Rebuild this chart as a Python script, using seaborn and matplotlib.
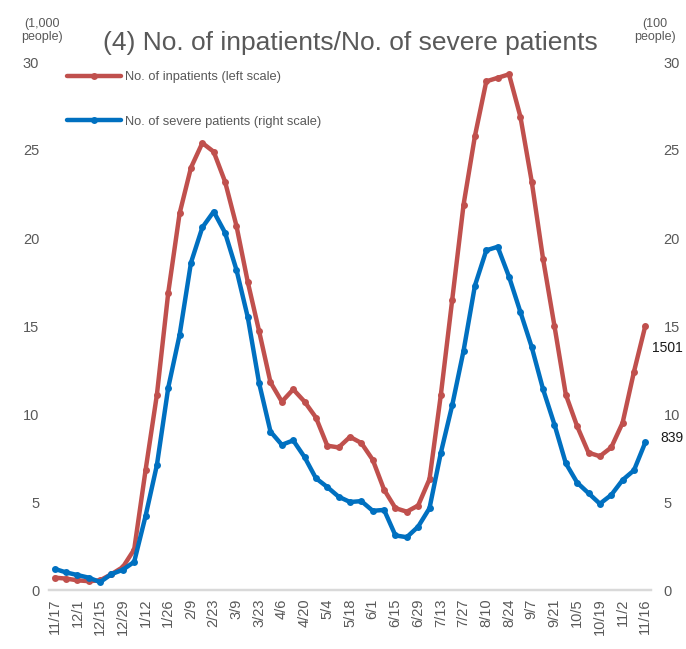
import matplotlib
matplotlib.use("Agg")
import matplotlib.pyplot as plt
import numpy as np
import pandas as pd
import seaborn as sns

# weekly observation dates
weeks = [
    "11/17", "11/24", "12/1", "12/8", "12/15", "12/22", "12/29", "1/5", "1/12", "1/19",
    "1/26", "2/2", "2/9", "2/16", "2/23", "3/2", "3/9", "3/16", "3/23", "3/30",
    "4/6", "4/13", "4/20", "4/27", "5/4", "5/11", "5/18", "5/25", "6/1", "6/8",
    "6/15", "6/22", "6/29", "7/6", "7/13", "7/20", "7/27", "8/3", "8/10", "8/17",
    "8/24", "8/31", "9/7", "9/14", "9/21", "9/28", "10/5", "10/12", "10/19", "10/26",
    "11/2", "11/9", "11/16",
]

# inpatients, 1,000 people (left scale)
inpatients = [
    0.7, 0.65, 0.55, 0.5, 0.55, 0.9, 1.3, 2.3, 6.8, 11.1,
    16.9, 21.4, 24.0, 25.4, 24.9, 23.2, 20.7, 17.5, 14.7, 11.8,
    10.7, 11.4, 10.7, 9.8, 8.2, 8.1, 8.7, 8.35, 7.4, 5.7,
    4.65, 4.45, 4.8, 6.3, 11.1, 16.5, 21.9, 25.8, 28.9, 29.1,
    29.3, 26.9, 23.2, 18.8, 15.0, 11.1, 9.3, 7.8, 7.6, 8.1,
    9.5, 12.4, 15.01,
]

# severe patients, 100 people (right scale)
severe = [
    1.2, 1.0, 0.85, 0.7, 0.45, 0.9, 1.15, 1.6, 4.2, 7.1,
    11.5, 14.5, 18.6, 20.6, 21.5, 20.3, 18.2, 15.5, 11.75, 9.0,
    8.25, 8.5, 7.55, 6.35, 5.85, 5.3, 5.0, 5.05, 4.5, 4.55,
    3.1, 3.0, 3.6, 4.65, 7.8, 10.5, 13.6, 17.3, 19.3, 19.5,
    17.8, 15.8, 13.8, 11.4, 9.4, 7.2, 6.1, 5.5, 4.9, 5.4,
    6.25, 6.8, 8.39,
]

y_ticks = [0, 5, 10, 15, 20, 25, 30]

RED = "#C0504D"
BLUE = "#0070C0"
GREY = "#595959"

sns.set_theme(style="white")
plt.rcParams["font.family"] = ["Liberation Sans", "DejaVu Sans"]

df = pd.DataFrame({"week": weeks, "inpatients": inpatients, "severe": severe})
df["pos"] = np.arange(len(df))

fig = plt.figure(figsize=(6.86, 6.49), dpi=100)
ax = fig.add_axes([49 / 686, 1 - 590 / 649, 602 / 686, 528 / 649])
ax2 = ax.twinx()

sns.lineplot(data=df, x="pos", y="inpatients", ax=ax, color=RED, linewidth=3.2,
             marker="o", markersize=5, markeredgewidth=0,
             label="No. of inpatients (left scale)", legend=False)
sns.lineplot(data=df, x="pos", y="severe", ax=ax2, color=BLUE, linewidth=3.2,
             marker="o", markersize=5, markeredgewidth=0,
             label="No. of severe patients (right scale)", legend=False)

for a in (ax, ax2):
    a.set_ylim(0, 30)
    a.set_yticks(y_ticks)
    a.set_xlim(-0.5, len(df) - 0.5)
    a.set_xlabel("")
    a.set_ylabel("")
    for side in ("top", "left", "right"):
        a.spines[side].set_visible(False)
    a.spines["bottom"].set_color("#d9d9d9")
    a.spines["bottom"].set_linewidth(1.6)
    a.grid(False)

ax.tick_params(axis="y", length=0, pad=7, labelsize=10.5, labelcolor=GREY)
ax2.tick_params(axis="y", length=0, pad=9, labelsize=10.5, labelcolor=GREY)
ax.set_xticks(df["pos"][::2])
ax.set_xticklabels(df["week"][::2], rotation=90)
ax.tick_params(axis="x", length=0, pad=6, labelsize=10.5, labelcolor=GREY)

fig.text(0.511, 0.934, "(4) No. of inpatients/No. of severe patients",
         ha="center", va="center", fontsize=19, color=GREY)
fig.text(0.061, 0.953, "(1,000\npeople)", ha="center", va="center",
         fontsize=9, color=GREY, linespacing=1.2)
fig.text(0.955, 0.953, "(100\npeople)", ha="center", va="center",
         fontsize=9, color=GREY, linespacing=1.2)

# end-point value labels
ax.annotate(f"{inpatients[-1] * 100:.0f}", (df["pos"].iloc[-1], inpatients[-1]),
            xytext=(5, -16), textcoords="offset points", ha="left", va="center",
            fontsize=10, color="#1a1a1a")
ax2.annotate(f"{severe[-1] * 100:.0f}", (df["pos"].iloc[-1], severe[-1]),
             xytext=(11, 3), textcoords="offset points", ha="left", va="center",
             fontsize=10, color="#1a1a1a")

handles = ax.get_lines()[:1] + ax2.get_lines()[:1]
leg = ax2.legend(handles=handles, labels=[h.get_label() for h in handles],
                 loc="upper left", bbox_to_anchor=(13 / 602, 1 - 4 / 528),
                 frameon=False, fontsize=9.3, handlelength=4.2,
                 handletextpad=0.3, labelspacing=2.5, borderaxespad=0)
for t in leg.get_texts():
    t.set_color(GREY)

fig.savefig("out.png", dpi=100)
